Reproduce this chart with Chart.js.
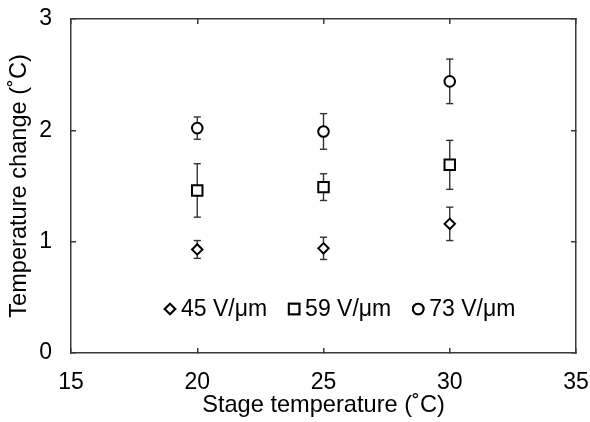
<!DOCTYPE html>
<html>
<head>
<meta charset="utf-8">
<script src="https://cdn.jsdelivr.net/npm/chart.js@4.4.1/dist/chart.umd.min.js"></script>
<style>
  html, body { margin: 0; padding: 0; background: #fff; }
  #wrap { width: 590px; height: 422px; }
</style>
</head>
<body>
<div id="wrap"><canvas id="c" width="590" height="422"></canvas></div>
<script>
// ---- data ----
const stageTemps = [20, 25, 30];
const seriesLabels = ['45 V/\u03bcm', '59 V/\u03bcm', '73 V/\u03bcm'];
const v45 = [0.93, 0.94, 1.16];
const v45Err = [0.08, 0.10, 0.15];
const v59 = [1.46, 1.49, 1.69];
const v59Err = [0.24, 0.12, 0.22];
const v73 = [2.02, 1.99, 2.44];
const v73Err = [0.10, 0.16, 0.20];
const xTickValues = [15, 20, 25, 30, 35];
const yTickValues = [0, 1, 2, 3];
const xTitle = 'Stage temperature (\u02daC)';
const yTitle = 'Temperature change (\u02daC)';

// ---- style ----
const FONT = '"Liberation Sans", Arial, Helvetica, sans-serif';
const FS = 23;
const FS_TITLE = 23.6;
const AXIS_COLOR = '#3a3a3a';
const AXIS_W = 1.5;
const TICK_LEN = -5;

const markerStyles = [
  { pointStyle: 'rectRot', radius: 5.2 },
  { pointStyle: 'rect', radius: 7.4 },
  { pointStyle: 'circle', radius: 5.3 }
];
const seriesValues = [v45, v59, v73];
const seriesErrors = [v45Err, v59Err, v73Err];

const datasets = [];
seriesValues.forEach((vals, s) => {
  datasets.push({
    label: seriesLabels[s],
    isMarker: true,
    data: stageTemps.map((x, i) => ({ x: x, y: vals[i] })),
    showLine: false,
    pointStyle: markerStyles[s].pointStyle,
    pointRadius: markerStyles[s].radius,
    pointHoverRadius: markerStyles[s].radius,
    pointBackgroundColor: '#ffffff',
    pointBorderColor: '#000000',
    pointBorderWidth: 2,
    order: 0
  });
});
seriesValues.forEach((vals, s) => {
  const errs = seriesErrors[s];
  const pts = [];
  stageTemps.forEach((x, i) => {
    pts.push({ x: x, y: vals[i] - errs[i] });
    pts.push({ x: x, y: vals[i] + errs[i] });
    pts.push({ x: x, y: null });
  });
  datasets.push({
    label: seriesLabels[s] + ' error',
    isMarker: false,
    data: pts,
    showLine: true,
    spanGaps: false,
    borderColor: '#333333',
    borderWidth: 1.4,
    pointStyle: 'line',
    pointRadius: 3.6,
    pointHoverRadius: 3.6,
    pointBorderColor: '#333333',
    pointBorderWidth: 1.4,
    order: 1
  });
});

const insideLegend = {
  id: 'insideLegend',
  afterDraw(chart) {
    const ctx = chart.ctx;
    const area = chart.chartArea;
    const y = area.bottom - 44;
    let x = area.left + 99;
    ctx.save();
    ctx.font = FS + 'px ' + FONT;
    ctx.textBaseline = 'middle';
    ctx.textAlign = 'left';
    chart.data.datasets.filter(d => d.isMarker).forEach(d => {
      ctx.strokeStyle = '#000';
      ctx.fillStyle = '#fff';
      ctx.lineWidth = 2;
      Chart.helpers.drawPoint(ctx, { pointStyle: d.pointStyle, radius: d.pointRadius, borderWidth: 2, rotation: 0 }, x, y);
      ctx.fill();
      ctx.stroke();
      ctx.fillStyle = '#000';
      ctx.fillText(d.label, x + 11, y + 1);
      x += 11 + ctx.measureText(d.label).width + 27;
    });
    ctx.restore();
  }
};

const gridOpts = {
  drawOnChartArea: false,
  drawTicks: true,
  tickLength: TICK_LEN,
  color: AXIS_COLOR,
  lineWidth: AXIS_W
};
const borderOpts = { display: true, color: AXIS_COLOR, width: AXIS_W };
function noPad(s) { s.paddingLeft = 0; s.paddingRight = 0; s.paddingTop = 0; s.paddingBottom = 0; }

new Chart(document.getElementById('c'), {
  type: 'scatter',
  data: { datasets: datasets },
  plugins: [insideLegend],
  options: {
    responsive: false,
    animation: false,
    devicePixelRatio: 1,
    layout: { padding: { left: 0, top: 19, right: 14, bottom: 0 } },
    plugins: { legend: { display: false }, tooltip: { enabled: false } },
    scales: {
      x: {
        type: 'linear', position: 'bottom', min: 15, max: 35,
        afterBuildTicks: s => { s.ticks = xTickValues.map(v => ({ value: v })); },
        afterFit: s => { s.height = 69; noPad(s); },
        grid: gridOpts, border: borderOpts,
        ticks: { color: '#000', font: { family: FONT, size: FS }, padding: 21, maxRotation: 0 },
        title: { display: true, text: xTitle, color: '#000', font: { family: FONT, size: FS_TITLE }, padding: { top: 0, bottom: 2 } }
      },
      y: {
        type: 'linear', position: 'left', min: 0, max: 3,
        afterBuildTicks: s => { s.ticks = yTickValues.map(v => ({ value: v })); },
        afterFit: s => { s.width = 71; noPad(s); },
        grid: gridOpts, border: borderOpts,
        ticks: { color: '#000', font: { family: FONT, size: FS }, padding: 24 },
        title: { display: true, text: yTitle, color: '#000', font: { family: FONT, size: FS_TITLE }, padding: { top: 5, bottom: 0 } }
      },
      x2: {
        type: 'linear', position: 'top', min: 15, max: 35,
        afterBuildTicks: s => { s.ticks = xTickValues.map(v => ({ value: v })); },
        afterFit: s => { s.height = 0; noPad(s); },
        grid: gridOpts, border: borderOpts,
        ticks: { display: false }
      },
      y2: {
        type: 'linear', position: 'right', min: 0, max: 3,
        afterBuildTicks: s => { s.ticks = yTickValues.map(v => ({ value: v })); },
        afterFit: s => { s.width = 0; noPad(s); },
        grid: gridOpts, border: borderOpts,
        ticks: { display: false }
      }
    }
  }
});
</script>
</body>
</html>
